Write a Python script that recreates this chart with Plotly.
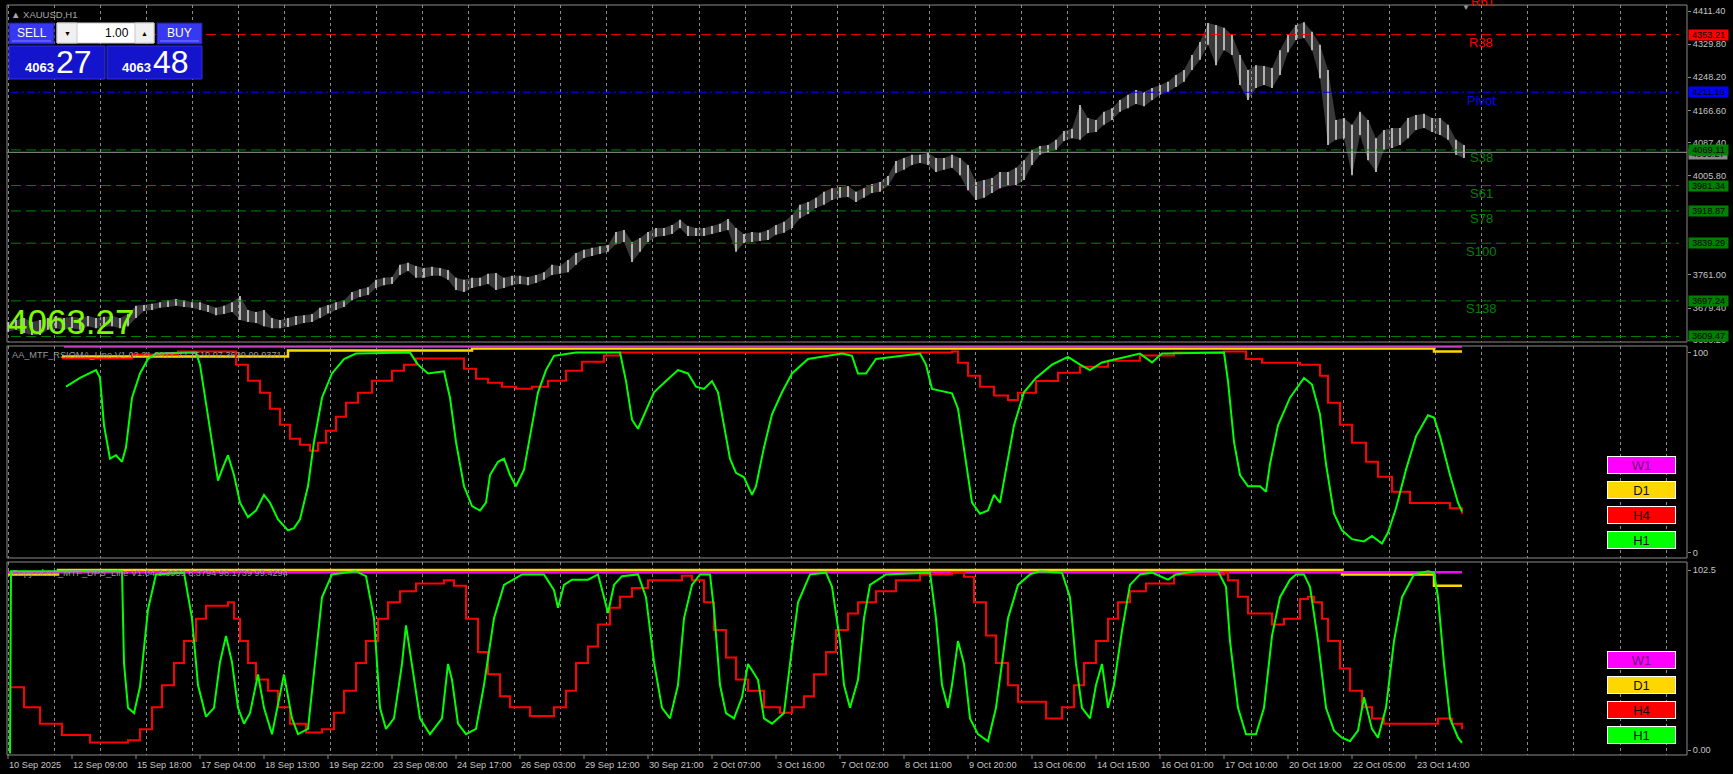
import plotly.graph_objects as go

# ---------------- canvas geometry (pixels) ----------------
W, H = 1733, 774
ML, MR, MT, MB = 7, 46, 5, 19
PW = W - ML - MR
PH = H - MT - MB


def px(x):
    return (x - ML) / PW


def py(y):
    return (H - MB - y) / PH


FONT = "Liberation Sans, Arial, sans-serif"

# ---------------- data ----------------
bar_step = 4  # each drawn bar groups 4 hourly bars
price_high = [3645, 3650, 3655, 3645, 3650, 3655, 3660, 3655, 3658, 3655,
              3660, 3655, 3658, 3660, 3655, 3665, 3685, 3687, 3690, 3694,
              3699, 3702, 3699, 3694, 3694, 3687, 3680, 3685, 3694, 3709,
              3675, 3670, 3675, 3655, 3650, 3655, 3660, 3662, 3665, 3680,
              3687, 3694, 3699, 3719, 3726, 3731, 3749, 3754, 3756, 3786,
              3791, 3783, 3778, 3781, 3778, 3773, 3754, 3749, 3754, 3754,
              3764, 3766, 3754, 3759, 3759, 3756, 3761, 3768, 3786, 3783,
              3798, 3815, 3823, 3828, 3832, 3835, 3867, 3872, 3842, 3852,
              3867, 3877, 3877, 3884, 3897, 3882, 3877, 3877, 3882, 3887,
              3899, 3877, 3862, 3867, 3865, 3872, 3884, 3892, 3909, 3934,
              3941, 3951, 3966, 3975, 3978, 3980, 3966, 3975, 3985, 3990,
              4005, 4042, 4049, 4057, 4057, 4062, 4049, 4049, 4057, 4049,
              4032, 3990, 3995, 4000, 4015, 4015, 4025, 4044, 4069, 4079,
              4081, 4094, 4116, 4121, 4180, 4148, 4143, 4163, 4172, 4192,
              4205, 4217, 4212, 4222, 4229, 4237, 4254, 4266, 4303, 4335,
              4382, 4377, 4370, 4352, 4303, 4266, 4278, 4276, 4271, 4315,
              4352, 4377, 4384, 4360, 4328, 4266, 4143, 4148, 4131, 4163,
              4143, 4098, 4118, 4123, 4123, 4148, 4155, 4158, 4148, 4148,
              4131, 4094, 4081]
price_low = [3621, 3626, 3618, 3613, 3613, 3626, 3630, 3626, 3630, 3626,
             3635, 3630, 3633, 3635, 3630, 3635, 3655, 3672, 3675, 3680,
             3682, 3685, 3682, 3680, 3675, 3670, 3662, 3665, 3670, 3650,
             3645, 3643, 3635, 3630, 3630, 3633, 3638, 3643, 3645, 3655,
             3667, 3675, 3682, 3699, 3707, 3712, 3729, 3736, 3739, 3761,
             3771, 3754, 3754, 3759, 3759, 3749, 3724, 3719, 3729, 3734,
             3739, 3724, 3729, 3736, 3739, 3736, 3741, 3749, 3761, 3764,
             3768, 3786, 3803, 3808, 3813, 3818, 3837, 3842, 3793, 3818,
             3842, 3855, 3857, 3862, 3877, 3857, 3857, 3857, 3862, 3867,
             3872, 3818, 3840, 3842, 3845, 3847, 3860, 3865, 3877, 3901,
             3911, 3926, 3934, 3946, 3951, 3953, 3941, 3951, 3963, 3966,
             3980, 4012, 4020, 4032, 4037, 4032, 4015, 4020, 4025, 4007,
             3970, 3946, 3951, 3963, 3975, 3980, 3983, 3995, 4032, 4057,
             4064, 4069, 4091, 4098, 4094, 4111, 4113, 4131, 4143, 4163,
             4172, 4182, 4177, 4192, 4205, 4212, 4224, 4237, 4266, 4291,
             4328, 4278, 4315, 4303, 4229, 4192, 4222, 4229, 4222, 4254,
             4310, 4340, 4345, 4315, 4246, 4081, 4094, 4098, 4007, 4106,
             4044, 4015, 4069, 4074, 4081, 4098, 4118, 4123, 4113, 4106,
             4094, 4057, 4049]

current_price = 4063.27
level_names = ["R38", "Pivot", "S38", "S61", "S78", "S100", "S138", "S161"]
level_values = [4353.21, 4211.16, 4069.11, 3981.34, 3918.87, 3839.29, 3697.24, 3609.47]
level_colors = ["#ff0000", "#0000ff", "#008000", "#008000", "#008000", "#008000", "#008000", "#008000"]
level_dash = ["10px,5px", "8px,3px,2px,3px", "10px,5px", "10px,5px", "10px,5px", "10px,5px", "10px,5px", "10px,5px"]

price_ticks = [4411.40, 4329.80, 4248.20, 4166.60, 4087.40, 4005.80, 3761.00, 3679.40, 3600.20]

date_labels = ["10 Sep 2025", "12 Sep 09:00", "15 Sep 18:00", "17 Sep 04:00", "18 Sep 13:00",
               "19 Sep 22:00", "23 Sep 08:00", "24 Sep 17:00", "26 Sep 03:00", "29 Sep 12:00",
               "30 Sep 21:00", "2 Oct 07:00", "3 Oct 16:00", "7 Oct 02:00", "8 Oct 11:00",
               "9 Oct 20:00", "13 Oct 06:00", "14 Oct 15:00", "16 Oct 01:00", "17 Oct 10:00",
               "20 Oct 19:00", "22 Oct 05:00", "23 Oct 14:00"]
date_label_bars = [0, 32, 64, 96, 128, 160, 192, 224, 256, 288, 320, 352, 384, 416, 448,
                   480, 512, 544, 576, 608, 640, 672, 704]

# RSIOMA panel: (bar index, value)
rsi_h1 = [(29, 83), (36, 87.4), (44, 91.3), (46, 87.4), (48, 63.7), (51, 47.1), (54, 48.8), (57, 45.5),
          (59, 52.7), (62, 77.5), (66, 89.6), (70, 96.8), (74, 99.5), (94, 100), (96, 94), (99, 74.7),
          (102, 55.4), (105, 36.1), (107, 41.6), (110, 48.8), (113, 38.9), (116, 25.1), (120, 17.9),
          (124, 21.2), (128, 29), (131, 25.1), (135, 16.8), (140, 11.3), (143, 12.4), (146, 16.8),
          (150, 33.3), (153, 55.4), (157, 77.5), (162, 89.6), (168, 96.8), (174, 99.5), (201, 100),
          (205, 94), (210, 89.6), (218, 90.7), (221, 77.5), (224, 55.4), (228, 33.3), (232, 23.4),
          (236, 21.2), (239, 25.1), (241, 38.9), (245, 45.5), (248, 47.1), (251, 38.9), (254, 33.3),
          (258, 41.6), (261, 58.2), (265, 80.2), (269, 91.3), (273, 98.4), (284, 100), (306, 100),
          (309, 85.8), (312, 66.5), (315, 62), (319, 70.9), (323, 80.2), (329, 85.8), (335, 91.3),
          (340, 89.6), (344, 83), (348, 81.9), (352, 85.8), (355, 80.2), (358, 63.7), (361, 47.1),
          (364, 40), (368, 37.8), (372, 29), (374, 33.3), (378, 52.7), (382, 69.2), (387, 80.2),
          (392, 89.6), (400, 96.8), (417, 99.5), (422, 98.4), (425, 89.6), (429, 89.6), (434, 96.8),
          (456, 99.5), (459, 94), (462, 81.9), (472, 79.7), (475, 72), (479, 44.4), (482, 25.1),
          (486, 19.6), (490, 21.2), (493, 29), (496, 25.1), (499, 41.6), (503, 63.7), (508, 80.2),
          (514, 87.4), (522, 94), (530, 97.9), (536, 94), (541, 91.3), (547, 95.1), (555, 96.8),
          (566, 99.5), (572, 95.1), (577, 99.5), (608, 100), (610, 85.8), (613, 55.4), (616, 38.9),
          (620, 33.3), (626, 33.3), (629, 30.6), (631, 44.4), (635, 63.7), (641, 77.5), (648, 87.4),
          (652, 84.1), (656, 69.2), (659, 44.4), (663, 19.6), (667, 11.3), (672, 6.9), (678, 5.8),
          (682, 8.5), (687, 4.7), (690, 10.2), (694, 22.3), (699, 41.6), (704, 58.2), (710, 68.7),
          (713, 67.6), (716, 58.2), (721, 38.9), (725, 25.1), (727, 20.7)]
rsi_h4 = [(27, 97), (57, 97), (62, 99), (85, 100.5), (112, 100.5), (114, 94), (120, 86), (126, 80),
          (131, 72), (136, 64), (141, 57), (146, 54), (151, 51), (155, 55), (159, 61), (164, 68),
          (169, 75), (175, 80), (182, 86), (192, 91), (198, 94), (204, 97), (225, 97), (228, 92),
          (234, 87), (240, 85), (247, 83), (254, 82), (262, 83), (270, 86), (279, 91), (287, 95.5),
          (298, 98.5), (306, 100), (472, 100.5), (475, 95), (480, 88.5), (486, 83), (493, 78.6),
          (500, 76.4), (505, 80), (514, 85.8), (525, 90), (536, 93), (550, 96), (566, 98.5),
          (583, 100), (608, 100.5), (619, 96.8), (627, 95), (646, 94), (652, 94), (656, 88.5),
          (660, 75), (666, 64), (672, 55), (679, 45.5), (685, 38), (692, 30.6), (701, 25),
          (712, 25), (721, 22.3), (727, 19.6)]
rsi_d1 = [(27, 98), (140, 101), (232, 102), (713, 100.5), (727, 100.5)]
rsi_w1 = [(28, 103), (727, 103)]

# DPS panel: (bar index, value)
dps_h1 = [(1, -2), (1.5, 101.8), (57, 101.8), (58, 49.5), (60, 24), (63, 21), (66, 36), (70, 80),
          (74, 100), (88, 101), (92, 75), (95, 37), (99, 19), (103, 24), (106, 50), (109, 65),
          (112, 50), (115, 24), (118, 15), (121, 21), (125, 43), (128, 24), (132, 9), (136, 33),
          (138, 43), (142, 18), (145, 9), (150, 12), (153, 43), (157, 87), (162, 100), (174, 101.8),
          (179, 99), (183, 75), (186, 24), (189, 12), (193, 18), (197, 49), (199, 71), (202, 49),
          (206, 18), (211, 9), (217, 18), (220, 49), (222, 40), (225, 15), (229, 9), (234, 12),
          (238, 37), (243, 75), (248, 94), (257, 100), (268, 100), (273, 91), (275, 81), (278, 94),
          (282, 97), (290, 97), (295, 100), (298, 87), (300, 78), (303, 94), (307, 99), (315, 100),
          (319, 87), (323, 50), (327, 24), (331, 18), (335, 37), (338, 75), (342, 94), (346, 100),
          (351, 100), (353, 80), (356, 37), (359, 21), (363, 18), (367, 30), (370, 49), (375, 40),
          (378, 18), (382, 15), (388, 21), (391, 49), (395, 84), (401, 100), (409, 101), (412, 93),
          (416, 62), (418, 37), (421, 24), (425, 40), (428, 75), (431, 94), (439, 100), (461, 101),
          (464, 75), (467, 37), (470, 24), (472, 37), (475, 62), (478, 49), (481, 18), (485, 9),
          (490, 5), (494, 24), (497, 49), (500, 75), (505, 94), (511, 100), (516, 101.8), (527, 101),
          (531, 87), (534, 49), (537, 24), (541, 18), (544, 37), (547, 49), (550, 24), (553, 37),
          (557, 68), (561, 94), (566, 100), (572, 101), (580, 97), (584, 100), (594, 101.8),
          (605, 101.8), (609, 93), (611, 62), (615, 24), (619, 9), (624, 9), (628, 24), (632, 65),
          (636, 87), (641, 97), (644, 100), (648, 100), (651, 93), (655, 62), (659, 24), (663, 11),
          (667, 7), (671, 5), (675, 11), (678, 30), (682, 12), (685, 7), (689, 24), (693, 62),
          (697, 87), (703, 100), (710, 101.8), (713, 101), (715, 87), (718, 49), (721, 18),
          (725, 7), (727, 4)]
dps_h4 = [(1.4, 35.7), (8, 24.3), (16, 14.9), (27, 8.6), (41, 4.2), (52, 4.2), (60, 5.5), (66, 11.8),
          (72, 24.3), (77, 36.9), (83, 49.5), (88, 62.1), (94, 74.7), (99, 82.2), (110, 84.1),
          (113, 74.7), (116, 62.1), (120, 49.5), (124, 40.1), (130, 33.8), (135, 24.3), (141, 14.9),
          (149, 9.9), (157, 11.8), (163, 21.2), (168, 33.8), (174, 49.5), (179, 62.1), (185, 74.7),
          (190, 84.1), (196, 90.4), (204, 94.8), (218, 96.7), (223, 93.6), (229, 74.7), (235, 55.8),
          (240, 43.2), (246, 30.6), (251, 24.3), (261, 19.3), (273, 24.3), (279, 33.8), (284, 49.5),
          (290, 59), (295, 71.5), (301, 81), (306, 87.3), (312, 92.3), (320, 96.7), (337, 99.2),
          (342, 96.7), (348, 84.1), (353, 68.4), (359, 52.7), (364, 40.1), (370, 33.8), (378, 24.3),
          (386, 21.2), (392, 24.3), (398, 30.6), (403, 43.2), (409, 55.8), (414, 68.4), (420, 77.8),
          (425, 84.1), (434, 90.4), (444, 96.7), (456, 99.9), (472, 101.1), (478, 98.6), (483, 84.1),
          (489, 65.2), (494, 49.5), (500, 36.9), (505, 27.5), (519, 18), (527, 24.3), (533, 36.9),
          (538, 49.5), (544, 62.1), (550, 74.7), (555, 84.1), (561, 90.4), (569, 94.8), (583, 99.9),
          (608, 101.1), (610, 96.7), (615, 87.3), (620, 77.8), (632, 71.5), (638, 74.7), (646, 86),
          (650, 87.3), (653, 84.1), (657, 74.7), (660, 62.1), (666, 46.4), (671, 33.8), (677, 24.3),
          (682, 18), (688, 14.9), (704, 14.9), (715, 18), (722, 14.9), (727, 11.8)]
dps_d1 = [(0, 100), (25, 102.5), (667, 100), (713, 93.6), (727, 93.6)]
dps_w1 = [(0, 101.2), (727, 101.2)]

panel_titles = ["AA_MTF_RSIOMA_Line V1.02 21.0977 22.7519 97.3629 99.9371",
                "Copy of AA_MTF_DPS_Line V1.04 3.3959 8.3794 98.1739 99.4294"]
tf_names = ["W1", "D1", "H4", "H1"]
tf_colors = ["#ff00ff", "#ffd700", "#ff0000", "#00ff00"]

# ---------------- axes geometry ----------------
X0 = -0.5
X1 = X0 + PW / 2.0
P1_RANGE = [3595.9, 4426.2]
P2_RANGE = [-2.5, 103.3]
P3_RANGE = [-2.85, 107.06]
DOM1 = [py(342), 1.0]
DOM2 = [py(558), py(346)]
DOM3 = [0.0, py(562)]

fig = go.Figure()

# price bars: a faint high/low envelope gives the dense bar texture, verticals on top
bar_x = [bar_step * k for k in range(len(price_high))]
fig.add_trace(go.Scatter(x=bar_x, y=price_low, mode="lines", line=dict(width=0, color="#000000"),
                         xaxis="x", yaxis="y", hoverinfo="skip", showlegend=False))
fig.add_trace(go.Scatter(x=bar_x, y=price_high, mode="lines", line=dict(width=0, color="#000000"),
                         fill="tonexty", fillcolor="rgba(190,190,190,0.30)",
                         xaxis="x", yaxis="y", hoverinfo="skip", showlegend=False))
bx, by = [], []
for i, h, l in zip(bar_x, price_high, price_low):
    bx += [i, i, None]
    by += [l, h, None]
fig.add_trace(go.Scatter(x=bx, y=by, mode="lines", line=dict(color="#d2d2d2", width=1.6),
                         xaxis="x", yaxis="y", hoverinfo="skip", showlegend=False))

# level lines
for name, val, col, dsh in zip(level_names, level_values, level_colors, level_dash):
    fig.add_trace(go.Scatter(x=[X0 + 2, X1 - 4], y=[val, val], mode="lines",
                             line=dict(color=col, width=1, dash=dsh),
                             xaxis="x", yaxis="y", hoverinfo="skip", showlegend=False))
# current price line
fig.add_trace(go.Scatter(x=[X0, X1], y=[current_price, current_price], mode="lines",
                         line=dict(color="#9a9a9a", width=1), xaxis="x", yaxis="y",
                         hoverinfo="skip", showlegend=False))


def add_series(pts, color, width, xa, ya, shape="linear"):
    fig.add_trace(go.Scatter(x=[p[0] for p in pts], y=[p[1] for p in pts], mode="lines",
                             line=dict(color=color, width=width, shape=shape),
                             xaxis=xa, yaxis=ya, hoverinfo="skip", showlegend=False))


add_series(rsi_d1, "#ffd700", 2.5, "x2", "y2", "hv")
add_series(rsi_w1, "#ff00ff", 2.5, "x2", "y2", "hv")
add_series(rsi_h4, "#ff0000", 2, "x2", "y2", "hv")
add_series(rsi_h1, "#00ff00", 2, "x2", "y2")

add_series(dps_d1, "#ffd700", 2.5, "x3", "y3", "hv")
add_series(dps_w1, "#ff00ff", 2.5, "x3", "y3", "hv")
add_series(dps_h4, "#ff0000", 2, "x3", "y3", "hv")
add_series(dps_h1, "#00ff00", 2, "x3", "y3")

grid = dict(tickmode="linear", tick0=23.15, dtick=23.025, showgrid=True, gridcolor="#8a8a8a",
            griddash="dot", gridwidth=1, showticklabels=False, ticks="", zeroline=False,
            showline=False, range=[X0, X1])
axis_font = dict(family=FONT, size=9.2, color="#c4c4c4")
yax = dict(side="right", showgrid=False, zeroline=False, ticks="outside", ticklen=3,
           tickcolor="#8a8a8a", tickfont=axis_font, showline=False)

fig.update_layout(
    width=W, height=H, autosize=False,
    margin=dict(l=ML, r=MR, t=MT, b=MB, pad=0),
    paper_bgcolor="#000000", plot_bgcolor="#000000",
    showlegend=False,
    xaxis=dict(**grid, domain=[0, 1], anchor="y", matches="x3"),
    xaxis2=dict(**grid, domain=[0, 1], anchor="y2", matches="x3"),
    xaxis3=dict(**grid, domain=[0, 1], anchor="y3"),
    yaxis=dict(**yax, domain=DOM1, range=P1_RANGE, anchor="x", tickmode="array",
               tickvals=price_ticks, ticktext=["%.2f" % v for v in price_ticks]),
    yaxis2=dict(**yax, domain=DOM2, range=P2_RANGE, anchor="x2", tickmode="array",
                tickvals=[100, 0], ticktext=["100", "0"]),
    yaxis3=dict(**yax, domain=DOM3, range=P3_RANGE, anchor="x3", tickmode="array",
                tickvals=[102.5, 0], ticktext=["102.5", "0.00"]),
)

shapes = []
ann = []

# panel borders
for d in (DOM1, DOM2, DOM3):
    shapes.append(dict(type="rect", xref="paper", yref="paper", x0=0, x1=1, y0=d[0], y1=d[1],
                       line=dict(color="#8a8a8a", width=1), layer="above"))

# date labels + ticks
for lab, b in zip(date_labels, date_label_bars):
    ann.append(dict(x=b, y=0, xref="x3", yref="paper", text=lab, showarrow=False,
                    xanchor="left", yanchor="top", yshift=-3, xshift=-1, font=axis_font))
    shapes.append(dict(type="line", xref="x3", yref="paper", x0=b, x1=b, y0=0, y1=-4 / PH,
                       line=dict(color="#8a8a8a", width=1)))

# level names and price boxes
for name, val, col in zip(level_names, level_values, level_colors):
    if name != "S161":
        ann.append(dict(x=px(1481), y=val, xref="paper", yref="y", text=name, showarrow=False,
                        xanchor="center", yanchor="middle", yshift=-8,
                        font=dict(family=FONT, size=13, color=col)))
# partially visible upper level label and marker at the top edge
ann.append(dict(x=px(1483), y=py(2), xref="paper", yref="paper", text="R61", showarrow=False,
                xanchor="center", yanchor="middle", font=dict(family=FONT, size=13, color="#ff0000")))
ann.append(dict(x=px(1466), y=py(7), xref="paper", yref="paper", text="\u25bc", showarrow=False,
                xanchor="center", yanchor="middle", font=dict(family=FONT, size=8, color="#9a9a9a")))

ann.append(dict(x=px(1688), y=current_price, xref="paper", yref="y", text="4063.27",
                showarrow=False, xanchor="left", yanchor="middle", yshift=-2, width=38, height=10,
                bgcolor="#8a8a8a", borderpad=0, font=dict(family=FONT, size=9.2, color="#000000")))
for name, val, col in zip(level_names, level_values, level_colors):
    ann.append(dict(x=px(1688), y=val, xref="paper", yref="y", text="%.2f" % val,
                    showarrow=False, xanchor="left", yanchor="middle", width=39, height=10,
                    bgcolor=col, borderpad=0,
                    font=dict(family=FONT, size=9.2, color="#000000")))

# big price text
ann.append(dict(x=px(6), y=py(321), xref="paper", yref="paper", text="4063.27", showarrow=False,
                xanchor="left", yanchor="middle", font=dict(family=FONT, size=35, color="#7cfc00")))
# symbol label
ann.append(dict(x=px(9), y=py(14), xref="paper", yref="paper", text="\u25b2 XAUUSD,H1",
                showarrow=False, xanchor="left", yanchor="middle",
                font=dict(family=FONT, size=9.5, color="#a8a8a8")))

# indicator titles
for t, yy in zip(panel_titles, (355, 572.5)):
    ann.append(dict(x=px(10), y=py(yy), xref="paper", yref="paper", text=t, showarrow=False,
                    xanchor="left", yanchor="middle", font=dict(family=FONT, size=9.2, color="#9a9a9a")))

# timeframe chips
for ys in ((465, 490, 514.7, 539.8), (659.7, 684.7, 709.8, 734.5)):
    for name, col, yy in zip(tf_names, tf_colors, ys):
        ann.append(dict(x=px(1641.5), y=py(yy), xref="paper", yref="paper", text=name,
                        showarrow=False, xanchor="center", yanchor="middle", width=67, height=16,
                        bgcolor=col, bordercolor="#ffffff", borderwidth=1, borderpad=0,
                        font=dict(family=FONT, size=13,
                                  color="#70107a" if name == "W1" else "#101010")))


# one-click trading panel
def rect(x0, y0, x1, y1, fill, line="#1a1a8c"):
    shapes.append(dict(type="rect", xref="paper", yref="paper", x0=px(x0), x1=px(x1),
                       y0=py(y1), y1=py(y0), fillcolor=fill, line=dict(color=line, width=1),
                       layer="above"))


rect(9, 23, 54, 44, "#3838f2")
rect(157, 23, 202, 44, "#3838f2")
rect(57, 23, 154, 43, "#ffffff", "#c8c8c8")
rect(57, 23, 77, 43, "#f0f0f0", "#c8c8c8")
rect(135, 23, 154, 43, "#f0f0f0", "#c8c8c8")
rect(9, 46, 105, 79, "#1414cc", "#3030e0")
rect(107, 46, 202, 79, "#1414cc", "#3030e0")
shapes.append(dict(type="line", xref="paper", yref="paper", x0=px(12), x1=px(51), y0=py(41),
                   y1=py(41), line=dict(color="#8080ff", width=1), layer="above"))
shapes.append(dict(type="line", xref="paper", yref="paper", x0=px(160), x1=px(199), y0=py(41),
                   y1=py(41), line=dict(color="#8080ff", width=1), layer="above"))


def label(x, y, text, size, color="#ffffff", anchor="center", bold=False):
    ann.append(dict(x=px(x), y=py(y), xref="paper", yref="paper",
                    text="<b>%s</b>" % text if bold else text, showarrow=False,
                    xanchor=anchor, yanchor="middle", font=dict(family=FONT, size=size, color=color)))


label(31.5, 33, "SELL", 12)
label(179.5, 33, "BUY", 12)
label(131, 33, "1.00", 12, "#000000", "right")
label(67, 33, "\u25bc", 7, "#000000")
label(144.5, 33, "\u25b2", 7, "#000000")
label(39, 68, "4063", 13, bold=True)
label(74, 62, "27", 32)
label(136.5, 68, "4063", 13, bold=True)
label(170.5, 62, "48", 32)

fig.update_layout(shapes=shapes, annotations=ann)
fig.write_html("out.html", config={"displayModeBar": False},
               post_script="document.body.style.margin='0px';document.body.style.overflow='hidden';")
